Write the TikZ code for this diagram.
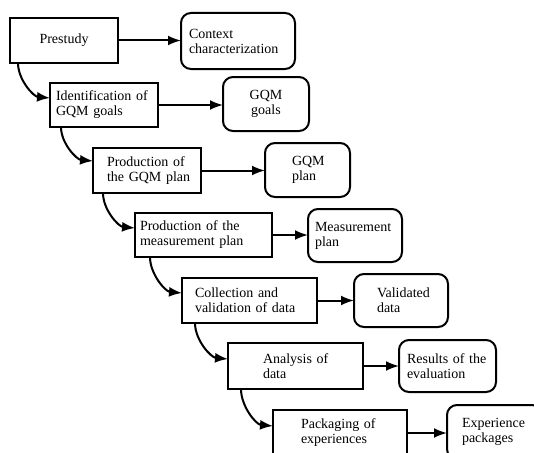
\documentclass[tikz,border=0pt]{standalone}
\usepackage{fontspec}
\setmainfont{Liberation Serif}
\usetikzlibrary{arrows.meta}
\begin{document}
\begin{tikzpicture}[x=1pt,y=-1pt,
  every node/.style={font=\fontsize{14}{15}\selectfont},
  proc/.style={draw, line width=1.3pt, anchor=north west, align=left, inner sep=0pt, outer sep=0pt},
  res/.style={draw, line width=2pt, rounded corners=10pt, anchor=north west, align=left, inner sep=0pt, outer sep=0pt},
  lm/.style={execute at begin node={\leftskip=#1\relax}},
  flow/.style={line width=2pt, -{Latex[length=13pt,width=10pt]}},
  down/.style={line width=2pt, -{Latex[length=13pt,width=10pt]}, out=-90, in=175, looseness=0.9}
]
\useasboundingbox (0,0) rectangle (534,452);
\clip (0,0) rectangle (534,452);
% process boxes
\node[proc, align=center, text width=108pt, minimum height=45pt] (p1) at (10,18) {Prestudy};
\node[proc, text width=108pt, lm=6pt, minimum height=44pt] (p2) at (50,83) {Identification of\\GQM goals};
\node[proc, text width=108pt, lm=14pt, minimum height=45pt] (p3) at (93,148) {Production of\\the GQM plan};
\node[proc, text width=137pt, lm=5pt, minimum height=44pt] (p4) at (135,213) {Production of the\\measurement plan\\[-4pt]};
\node[proc, text width=135pt, lm=13pt, minimum height=45pt] (p5) at (182,278) {Collection and\\validation of data};
\node[proc, text width=135pt, lm=35pt, minimum height=46pt] (p6) at (228,343) {Analysis of\\data};
\node[proc, text width=134pt, lm=28pt, minimum height=46pt] (p7) at (273,410) {Packaging of\\experiences};
% result boxes
\node[res, text width=114pt, lm=8pt, minimum height=56pt] (o1) at (181,13) {Context\\characterization};
\node[res, align=center, text width=86pt, minimum height=54pt] (o2) at (223,77) {GQM\\goals};
\node[res, text width=85pt, lm=27pt, minimum height=54pt] (o3) at (265,143) {GQM\\plan};
\node[res, text width=94pt, lm=7pt, minimum height=53pt] (o4) at (308,209) {Measurement\\plan};
\node[res, text width=94pt, lm=23pt, minimum height=53pt] (o5) at (354,274) {Validated\\data};
\node[res, text width=97pt, lm=8pt, minimum height=52pt] (o6) at (399,340) {Results of the\\evaluation};
\node[res, text width=95pt, lm=15pt, minimum height=54pt] (o7) at (447,405) {Experience\\packages};
% horizontal arrows
\foreach \i in {1,...,7}{
  \draw[flow] (p\i.east) -- (p\i.east -| o\i.west);
}
% curved arrows
\draw[down] ([xshift=8pt]p1.south west) to ([yshift=-15pt]p2.north west);
\draw[down] ([xshift=11pt]p2.south west) to ([yshift=-13pt]p3.north west);
\draw[down] ([xshift=10pt]p3.south west) to ([yshift=-15pt]p4.north west);
\draw[down] ([xshift=15pt]p4.south west) to ([yshift=-15pt]p5.north west);
\draw[down] ([xshift=13pt]p5.south west) to ([yshift=-16pt]p6.north west);
\draw[down] ([xshift=13pt]p6.south west) to ([yshift=-16pt]p7.north west);
\end{tikzpicture}
\end{document}
